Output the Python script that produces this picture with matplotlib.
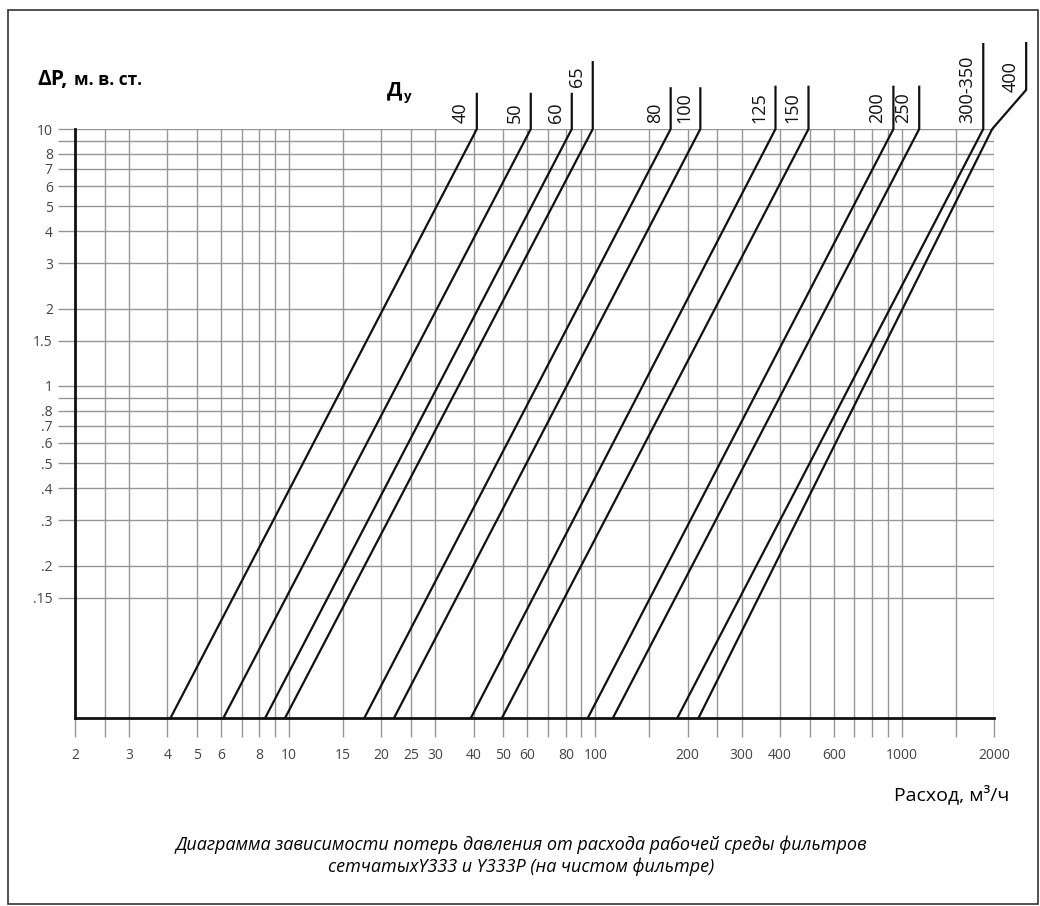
import matplotlib
matplotlib.use("Agg")
import matplotlib.pyplot as plt
from matplotlib.ticker import NullLocator, FixedLocator, FixedFormatter
from matplotlib.patches import Rectangle

plt.rcParams['font.family'] = ['Open Sans', 'DejaVu Sans']

# ---------------- data ----------------
dn_labels = ['40', '50', '60', '65', '80', '100', '125', '150', '200', '250', '300-350', '400']
# flow (m3/h) where each curve meets the bottom of the chart (dP = dp_min)
q_at_min = [4.1, 6.1, 8.35, 9.7, 17.6, 22.0, 39.2, 49.5, 94.4, 114, 185, 217]
# flow (m3/h) at dP = 10 m w.c.
q_at_10 = [41, 61.5, 83.7, 98, 176, 220, 387, 496, 939, 1140, 1845, 1973]
dp_min = 0.051
dp_max = 10

x_grid = [2, 2.5, 3, 4, 5, 6, 7, 8, 9, 10, 15, 20, 25, 30, 40, 50, 60, 70, 80, 90,
          100, 150, 200, 250, 300, 400, 500, 600, 700, 800, 900, 1000, 1500, 2000]
x_labels = ['2', '', '3', '4', '5', '6', '', '8', '', '10', '15', '20', '25', '30', '40', '50', '60', '', '80', '',
            '100', '', '200', '', '300', '400', '', '600', '', '', '', '1000', '', '2000']
y_grid = [10, 9, 8, 7, 6, 5, 4, 3, 2, 1.5, 1, 0.9, 0.8, 0.7, 0.6, 0.5, 0.4, 0.3, 0.2, 0.15]
y_labels = ['10', '', '8', '7', '6', '5', '4', '3', '2', '1.5', '1', '', '.8', '.7', '.6', '.5', '.4', '.3', '.2', '.15']

# leader lines above the grid (layout)
leader_q = [41, 61.5, 83.7, 98, 176, 220, 387, 496, 939, 1140, 1845, 2547]
leader_bend = [10, 10, 10, 10, 10, 10, 10, 10, 10, 10, 10, 14.2]
leader_top = [13.7, 13.7, 13.7, 18.2, 14.4, 14.4, 14.6, 14.6, 14.6, 14.6, 21.4, 21.6]
label_bottom = [10.55, 10.55, 10.55, 14.6, 10.55, 10.55, 10.55, 10.55, 10.55, 10.55, 10.55, 13.9]

W, H = 1040, 906
fig = plt.figure(figsize=(W / 100, H / 100), dpi=100)
ax = fig.add_axes([75 / W, (H - 718) / H, (994 - 75) / W, (718 - 129) / H])
ax.set_xscale('log')
ax.set_yscale('log')
ax.set_xlim(2, 2000)
ax.set_ylim(dp_min, dp_max)

grid_c = '#969696'
ax.xaxis.set_major_locator(FixedLocator(x_grid))
ax.xaxis.set_major_formatter(FixedFormatter(x_labels))
ax.xaxis.set_minor_locator(NullLocator())
ax.yaxis.set_major_locator(FixedLocator(y_grid))
ax.yaxis.set_major_formatter(FixedFormatter(y_labels))
ax.yaxis.set_minor_locator(NullLocator())
ax.tick_params(axis='x', length=13.5, width=1.0, color=grid_c, pad=8, labelsize=10, labelcolor='#444444')
ax.tick_params(axis='y', length=12.5, width=1.0, color=grid_c, pad=3.5, labelsize=10, labelcolor='#444444')
ax.grid(True, color=grid_c, lw=1.0)
ax.set_axisbelow(True)
for s in ['top', 'right']:
    ax.spines[s].set_visible(False)
for s in ['left', 'bottom']:
    ax.spines[s].set_linewidth(2.0)
    ax.spines[s].set_color('#111111')

for i, lab in enumerate(dn_labels):
    ax.plot([q_at_min[i], q_at_10[i], leader_q[i], leader_q[i]],
            [dp_min, dp_max, leader_bend[i], leader_top[i]],
            color='#111111', lw=1.6, clip_on=False, zorder=5)
    ax.annotate(lab, xy=(leader_q[i], label_bottom[i]), xytext=(-11.5, 0),
                textcoords='offset points', rotation=90, ha='center', va='bottom',
                fontsize=13, color='#111111', annotation_clip=False)

# texts
fig.text(37 / W, 1 - 85 / H, 'ΔP,', fontsize=15, fontweight='bold', va='baseline', ha='left')
fig.text(74 / W, 1 - 85 / H, 'м. в. ст.', fontsize=12.5, fontweight='bold', va='baseline', ha='left')
fig.text(387 / W, 1 - 95 / H, 'Д', fontsize=14.5, fontweight='bold', va='baseline', ha='left')
fig.text(404 / W, 1 - 100 / H, 'у', fontsize=9.5, fontweight='bold', va='baseline', ha='left')
fig.text(1009 / W, 1 - 800 / H, 'Расход, м³/ч', fontsize=14, va='baseline', ha='right')
fig.text(521 / W, 1 - 845 / H, 'Диаграмма зависимости потерь давления от расхода рабочей среды фильтров',
         fontsize=13, style='italic', ha='center', va='center')
fig.text(521 / W, 1 - 867 / H, 'сетчатыхY333 и Y333P (на чистом фильтре)',
         fontsize=13, style='italic', ha='center', va='center')

fig.patches.append(Rectangle((8 / W, 1 - 904 / H), 1030 / W, 894 / H, transform=fig.transFigure,
                             fill=False, edgecolor='#333333', lw=1.2))

fig.savefig('out.png', dpi=100)
